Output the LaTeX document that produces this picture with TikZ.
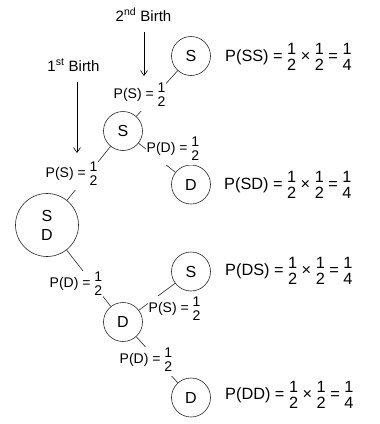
\documentclass[tikz,border=0pt]{standalone}
\usepackage{fontspec}
\setmainfont{Liberation Sans}
\usetikzlibrary{arrows.meta}
\newcommand{\fr}[2]{\raisebox{-2.5pt}{\begin{tabular}{@{}c@{}}#1\\#2\end{tabular}}}
\begin{document}
\begin{tikzpicture}[x=1pt,y=-1pt,
  st/.style={circle, draw=black!85, line width=0.6pt, minimum size=39pt, inner sep=0pt, font=\fontsize{16}{19}\selectfont},
  big/.style={st, minimum size=63pt, align=center},
  lab/.style={fill=white, inner sep=0.5pt, anchor=base west, font=\fontsize{14}{14}\selectfont},
  res/.style={anchor=base west, inner sep=0pt, font=\fontsize{16.3}{15}\selectfont},
  birth/.style={anchor=base, inner sep=0pt, font=\fontsize{15}{18}\selectfont},
  link/.style={draw=black!85, line width=0.6pt},
  arr/.style={-{Straight Barb[length=5pt,width=7pt]}, line width=0.6pt}
]
\fill[white] (0,0) rectangle (380,424);
\useasboundingbox (0,0) rectangle (380,424);

% circles
\node[big] (n0) at (47,225) {S\\D};
\node[st] (n1) at (123,131) {S};
\node[st] (n2) at (123,322) {D};
\node[st] (n11) at (191,56) {S};
\node[st] (n12) at (191,184.5) {D};
\node[st] (n21) at (191,271.5) {S};
\node[st] (n22) at (191,397.5) {D};

% connectors
\draw[link] (n0) -- (n1);
\draw[link] (n0) -- (n2);
\draw[link] (n1) -- (n11);
\draw[link] (n1) -- (n12);
\draw[link] (n2) -- (n21);
\draw[link] (n2) -- (n22);

% branch labels
\node[lab] (l1) at (113,98) {P(S) = \fr{1}{2}};
\node[lab] (l2) at (146,152) {P(D) = \fr{1}{2}};
\node[lab] (l3) at (45,177) {P(S) = \fr{1}{2}};
\node[lab] (l4) at (49,287) {P(D) = \fr{1}{2}};
\node[lab] (l5) at (148,312) {P(S) = \fr{1}{2}};
\node[lab] (l6) at (119,363) {P(D) = \fr{1}{2}};

% results
\node[res] (r1) at (225,61) {P(SS) = \fr{1}{2} × \fr{1}{2} = \fr{1}{4}};
\node[res] (r2) at (224,189) {P(SD) = \fr{1}{2} × \fr{1}{2} = \fr{1}{4}};
\node[res] (r3) at (225,275) {P(DS) = \fr{1}{2} × \fr{1}{2} = \fr{1}{4}};
\node[res] (r4) at (225,399) {P(DD) = \fr{1}{2} × \fr{1}{2} = \fr{1}{4}};

% birth labels and arrows
\node[birth] (b2) at (143.5,21) {2\textsuperscript{nd} Birth};
\node[birth] (b1) at (73.5,71) {1\textsuperscript{st} Birth};
\coordinate (t2) at (144,76);
\coordinate (t1) at (77,153);
\draw[arr] ([xshift=0.5pt,yshift=-10.5pt]b2.south) -- (t2);
\draw[arr] ([xshift=3.5pt,yshift=-11pt]b1.south) -- (t1);
\end{tikzpicture}
\end{document}
